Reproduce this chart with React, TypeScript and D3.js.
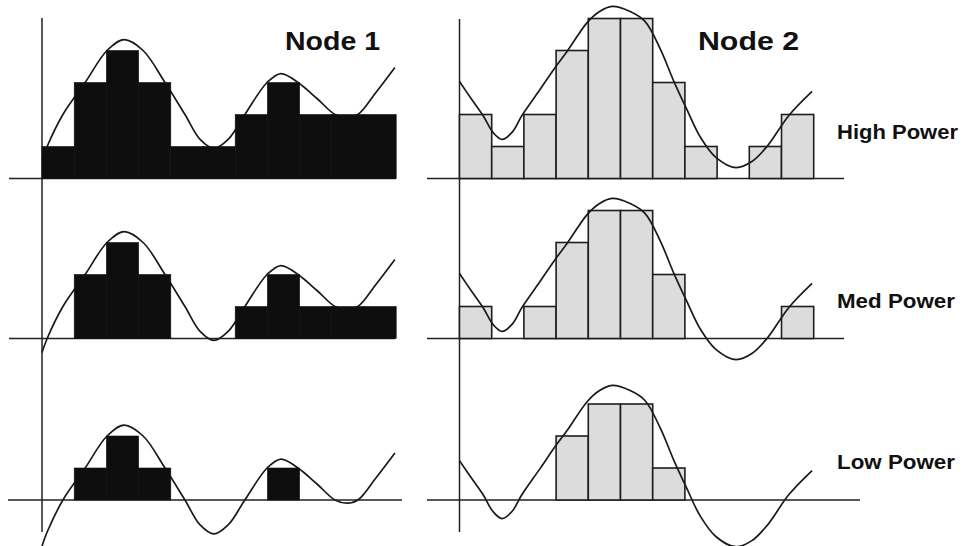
import React from "react";
import * as d3 from "d3";

// Titles and row labels
const nodeNames = ["Node 1", "Node 2"];
const powerLabels = ["High Power", "Med Power", "Low Power"];

// Quantized levels per time slot (11 slots per node)
const node1High = [1, 3, 4, 3, 1, 1, 2, 3, 2, 2, 2];
const node1Med = [0, 2, 3, 2, 0, 0, 1, 2, 1, 1, 1];
const node1Low = [0, 1, 2, 1, 0, 0, 0, 1, 0, 0, 0];
const node2High = [2, 1, 2, 4, 5, 5, 3, 1, 0, 1, 2];
const node2Med = [1, 0, 1, 3, 4, 4, 2, 0, 0, 0, 1];
const node2Low = [0, 0, 0, 2, 3, 3, 1, 0, 0, 0, 0];

// Underlying signal (slot units on x, level units on y, low-power reference)
const node1WaveX = [0, 0.16, 0.65, 1.34, 2.02, 2.55, 3.14, 3.82, 4.44, 4.91, 5.34, 5.78, 6.3, 6.99, 7.42, 7.95, 8.54, 9.1, 9.47, 9.81, 10.37, 10.96];
const node1WaveY = [-1.44, -1.0, 0, 1.0, 2.0, 2.34, 2.0, 1.0, 0, -0.78, -1.06, -0.78, 0, 1.0, 1.28, 1.0, 0.5, 0, -0.1, 0, 0.69, 1.47];
const node2WaveX = [0, 0.36, 0.73, 1.04, 1.32, 1.63, 1.94, 2.5, 2.97, 3.34, 3.97, 4.35, 4.74, 5.3, 5.76, 6.23, 6.66, 7.06, 7.47, 7.96, 8.58, 9.08, 9.55, 10.23, 10.95];
const node2WaveY = [1.03, 0.5, -0.03, -0.56, -0.78, -0.56, -0.03, 0.78, 1.47, 1.97, 2.88, 3.22, 3.38, 3.22, 2.91, 2.06, 1.03, 0.16, -0.69, -1.34, -1.66, -1.47, -1.0, -0.03, 0.72];

// Signal offset (in levels) for High, Med, Low power rows
const node1Shift = [2, 1, 0];
const node2Shift = [2, 1, 0.2];

const W = 963;
const H = 546;
const colW = 32.2;
const unit = 32;
const rowBase = [178.5, 338.5, 500];
const panelLeft = [42, 459.5];
const axisTop = [18, 19];
const axisBottom = 532;
const baseExtent = [
  [[9, 396], [9, 395], [8, 402]],
  [[427, 844], [427, 844], [427, 860]],
];
const titlePos = [
  { x: 285, y: 50, len: 95 },
  { x: 698, y: 50, len: 101 },
];
const labelX = 837;
const labelY = [139, 308, 469];
const labelLen = [121, 118, 118];

const nodes = [
  {
    levels: [node1High, node1Med, node1Low],
    waveX: node1WaveX,
    waveY: node1WaveY,
    shift: node1Shift,
    fill: "#0e0e0e",
    stroke: "#0e0e0e",
    curveOnTop: false,
  },
  {
    levels: [node2High, node2Med, node2Low],
    waveX: node2WaveX,
    waveY: node2WaveY,
    shift: node2Shift,
    fill: "#dcdcdc",
    stroke: "#1e1e1e",
    curveOnTop: true,
  },
];

const font = "'Liberation Sans', Arial, Helvetica, sans-serif";

function Panel({ ni, ri }: { ni: number; ri: number }) {
  const node = nodes[ni];
  const x = d3
    .scaleLinear()
    .domain([0, 11])
    .range([panelLeft[ni], panelLeft[ni] + 11 * colW]);
  const y = d3
    .scaleLinear()
    .domain([0, 1])
    .range([rowBase[ri], rowBase[ri] - unit]);
  const values = node.levels[ri];
  const pts: [number, number][] = node.waveX.map((wx, i) => [
    wx,
    node.waveY[i] + node.shift[ri],
  ]);
  const line = d3
    .line<[number, number]>()
    .x((d) => x(d[0]))
    .y((d) => y(d[1]))
    .curve(d3.curveCatmullRom.alpha(0.5));

  const wave = (
    <path
      d={line(pts) || ""}
      fill="none"
      stroke="#1a1a1a"
      strokeWidth={1.7}
      strokeLinejoin="round"
    />
  );
  const bars = values.map((v, i) =>
    v > 0 ? (
      <rect
        key={i}
        x={x(i)}
        y={y(v)}
        width={x(i + 1) - x(i)}
        height={y(0) - y(v)}
        fill={node.fill}
        stroke={node.stroke}
        strokeWidth={ni === 1 ? 1.6 : 0.6}
      />
    ) : null
  );
  const [bx0, bx1] = baseExtent[ni][ri];
  return (
    <g>
      <line
        x1={bx0}
        x2={bx1}
        y1={rowBase[ri]}
        y2={rowBase[ri]}
        stroke="#222"
        strokeWidth={1.6}
      />
      {!node.curveOnTop && wave}
      {bars}
      {node.curveOnTop && wave}
    </g>
  );
}

export default function App() {
  return (
    <svg
      width={W}
      height={H}
      viewBox={`0 0 ${W} ${H}`}
      style={{ position: "absolute", left: 0, top: 0, background: "#fff" }}
    >
      <rect x={0} y={0} width={W} height={H} fill="#fff" />
      {panelLeft.map((px, ni) => (
        <line
          key={"axis" + ni}
          x1={px}
          x2={px}
          y1={axisTop[ni]}
          y2={axisBottom}
          stroke="#222"
          strokeWidth={1.5}
        />
      ))}
      {[0, 1].map((ni) =>
        [0, 1, 2].map((ri) => <Panel key={ni + "-" + ri} ni={ni} ri={ri} />)
      )}
      {nodeNames.map((name, ni) => (
        <text
          key={name}
          x={titlePos[ni].x}
          y={titlePos[ni].y}
          fontFamily={font}
          fontWeight="bold"
          fontSize={25}
          fill="#111"
          textLength={titlePos[ni].len}
          lengthAdjust="spacingAndGlyphs"
        >
          {name}
        </text>
      ))}
      {powerLabels.map((label, ri) => (
        <text
          key={label}
          x={labelX}
          y={labelY[ri]}
          fontFamily={font}
          fontWeight="bold"
          fontSize={19.5}
          fill="#111"
          textLength={labelLen[ri]}
          lengthAdjust="spacingAndGlyphs"
        >
          {label}
        </text>
      ))}
    </svg>
  );
}
